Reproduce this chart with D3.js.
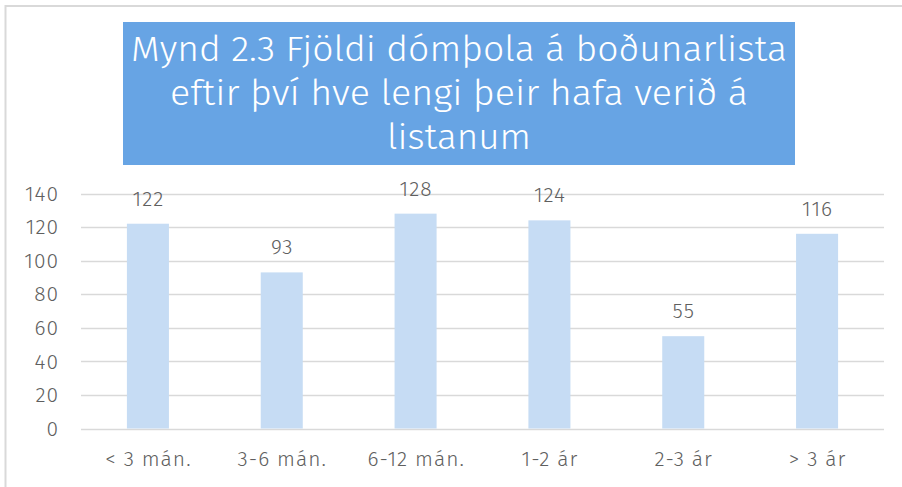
<!DOCTYPE html>
<html><head><meta charset="utf-8">
<script src="https://cdn.jsdelivr.net/npm/d3@7"></script>
<style>html,body{margin:0;padding:0;background:#fff;}svg{display:block;}</style>
</head><body>
<svg id="c" width="902" height="487"></svg>
<script>
const categories = ["< 3 mán.", "3-6 mán.", "6-12 mán.", "1-2 ár", "2-3 ár", "> 3 ár"];
const values = [122, 93, 128, 124, 55, 116];
const yTicks = [0, 20, 40, 60, 80, 100, 120, 140];
const titleLines = ["Mynd 2.3 Fjöldi dómþola á boðunarlista", "eftir því hve lengi þeir hafa verið á", "listanum"];

const svg = d3.select("#c");
const font = "'Fira Sans Light','Open Sans','Noto Sans',sans-serif";
const grey = "#5f5f5f";

// frame
svg.append("path").attr("d","M5.5,487 V6 H902").attr("fill","none").attr("stroke","#d9d9d9").attr("stroke-width",2);

// title box
svg.append("rect").attr("x",123).attr("y",22).attr("width",672).attr("height",143).attr("fill","#67a4e4");
const tl = [{t:titleLines[0],y:61,w:656},{t:titleLines[1],y:105,w:578},{t:titleLines[2],y:149,w:144}];
tl.forEach(d=>{
  svg.append("text").attr("x",459).attr("y",d.y).attr("text-anchor","middle")
    .attr("font-family",font).attr("font-weight",300).attr("font-size",36).attr("fill","#fff")
    .attr("textLength",d.w).attr("lengthAdjust","spacingAndGlyphs").text(d.t);
});

const x = d3.scaleBand().domain(categories).range([81,884]).paddingInner(0.686).paddingOuter(0.343);
const y = d3.scaleLinear().domain([0,140]).range([428.5,193.5]);

// gridlines
svg.append("g").selectAll("line").data(yTicks).join("line")
  .attr("x1",81).attr("x2",884).attr("y1",d=>Math.round(y(d))+0.5).attr("y2",d=>Math.round(y(d))+0.5)
  .attr("stroke","#d9d9d9").attr("stroke-width",1.5);

const fs = 21, ls = 1;
// y axis
const ya = svg.append("g").attr("transform","translate(81,0)")
  .call(d3.axisLeft(y).tickValues(yTicks).tickSize(0).tickPadding(22));
ya.select(".domain").remove();
ya.selectAll("text").attr("font-family",font).attr("font-weight",300).attr("font-size",fs).attr("letter-spacing",ls).attr("fill",grey);

// bars
svg.append("g").selectAll("rect").data(values).join("rect")
  .attr("x",(d,i)=>x(categories[i])).attr("width",x.bandwidth())
  .attr("y",d=>y(d)).attr("height",d=>y(0)-y(d)).attr("fill","#c6dcf4");

// data labels
svg.append("g").selectAll("text").data(values).join("text")
  .attr("x",(d,i)=>x(categories[i])+x.bandwidth()/2+ls/2).attr("y",d=>y(d)-18)
  .attr("text-anchor","middle").attr("font-family",font).attr("font-weight",300).attr("font-size",fs).attr("letter-spacing",ls).attr("fill",grey)
  .text(d=>d);

// x axis
const xa = svg.append("g").attr("transform","translate(0,428.5)")
  .call(d3.axisBottom(x).tickSize(0).tickPadding(23));
xa.select(".domain").remove();
xa.selectAll("text").attr("font-family",font).attr("font-weight",300).attr("font-size",fs).attr("letter-spacing",ls).attr("dx",ls/2).attr("fill",grey);
</script>
</body></html>
